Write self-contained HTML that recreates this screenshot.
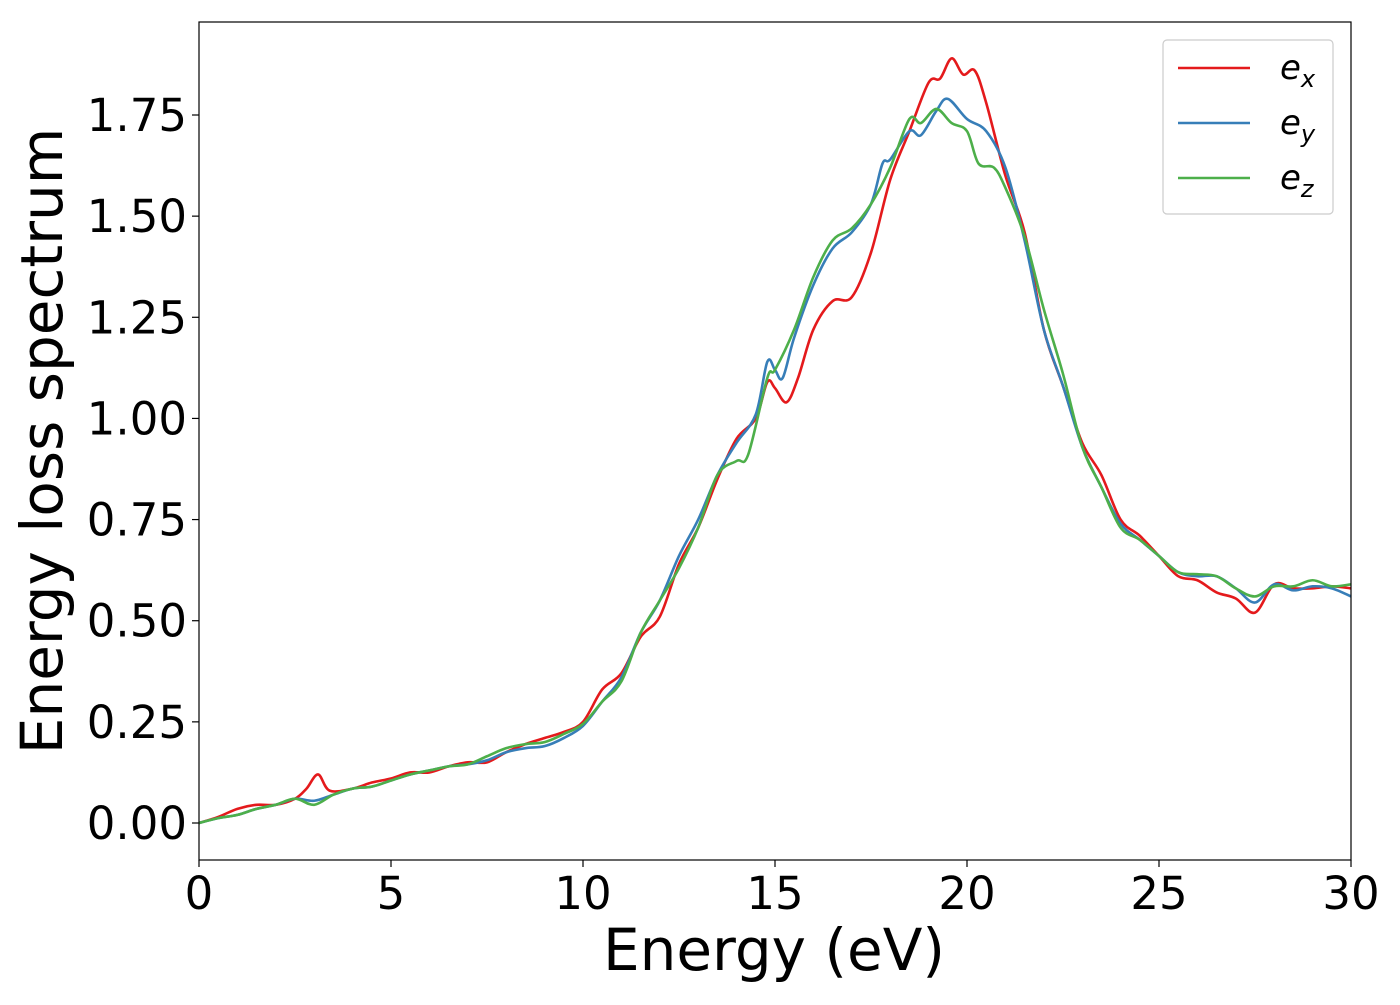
<!DOCTYPE html>
<html><head><meta charset="utf-8"><style>
body{margin:0;background:#fff;}
svg{font-family:"DejaVu Sans","Liberation Sans",sans-serif;}
</style></head><body>
<svg id="chart" width="1400" height="1000" xmlns="http://www.w3.org/2000/svg">
<rect x="0" y="0" width="1400" height="1000" fill="#fff"/>
<g id="plot"></g>
</svg>
<script>
const xTicks=[0,5,10,15,20,25,30];
const yTicks=[0,0.25,0.5,0.75,1.0,1.25,1.5,1.75];
const yTickLabels=["0.00","0.25","0.50","0.75","1.00","1.25","1.50","1.75"];
const seriesNames=["x","y","z"];
const exE=[0,0.5,1,1.5,2,2.5,2.8,3.1,3.4,4,4.5,5,5.5,6,6.5,7,7.5,8,8.5,9,9.5,10,10.5,11,11.5,12,12.5,13,13.5,14,14.5,14.8,15,15.3,15.6,16,16.5,17,17.5,18,18.5,19,19.3,19.6,19.9,20.2,20.5,21,21.5,22,22.5,23,23.5,24,24.5,25,25.5,26,26.5,27,27.5,28,28.5,29,29.5,30];
const exV=[0,0.015,0.035,0.045,0.045,0.06,0.085,0.12,0.08,0.085,0.1,0.11,0.125,0.125,0.14,0.15,0.15,0.175,0.195,0.21,0.225,0.25,0.33,0.37,0.46,0.51,0.64,0.73,0.85,0.95,1.0,1.09,1.075,1.04,1.1,1.22,1.29,1.3,1.41,1.59,1.71,1.83,1.84,1.89,1.85,1.86,1.78,1.6,1.46,1.22,1.08,0.94,0.86,0.75,0.71,0.66,0.61,0.6,0.57,0.555,0.52,0.59,0.58,0.58,0.585,0.58];
const eyE=[0,0.5,1,1.5,2,2.5,3,3.5,4,4.5,5,5.5,6,6.5,7,7.5,8,8.5,9,9.5,10,10.5,11,11.5,12,12.5,13,13.5,14,14.5,14.8,15,15.2,15.5,16,16.5,17,17.5,17.8,18,18.5,18.8,19.2,19.5,20,20.5,21,21.5,22,22.5,23,23.5,24,24.5,25,25.5,26,26.5,27,27.5,28,28.5,29,29.5,30];
const eyV=[0,0.012,0.02,0.035,0.045,0.06,0.055,0.07,0.085,0.09,0.105,0.12,0.13,0.14,0.145,0.155,0.175,0.185,0.19,0.21,0.24,0.3,0.36,0.47,0.55,0.66,0.75,0.86,0.94,1.01,1.14,1.12,1.1,1.2,1.33,1.42,1.46,1.53,1.63,1.64,1.71,1.7,1.76,1.79,1.74,1.71,1.62,1.44,1.22,1.08,0.93,0.83,0.74,0.7,0.66,0.62,0.61,0.61,0.58,0.545,0.59,0.575,0.585,0.58,0.56];
const ezE=[0,0.5,1,1.5,2,2.5,3,3.5,4,4.5,5,5.5,6,6.5,7,7.5,8,8.5,9,9.5,10,10.5,11,11.5,12,12.5,13,13.5,14,14.3,14.8,15,15.5,16,16.5,17,17.5,18,18.5,18.8,19.2,19.6,20,20.3,20.7,21,21.5,22,22.5,23,23.5,24,24.5,25,25.5,26,26.5,27,27.5,28,28.5,29,29.5,30];
const ezV=[0,0.012,0.02,0.035,0.045,0.06,0.045,0.07,0.085,0.09,0.105,0.12,0.13,0.14,0.145,0.165,0.185,0.195,0.2,0.22,0.245,0.3,0.35,0.47,0.55,0.63,0.73,0.86,0.895,0.91,1.1,1.12,1.22,1.35,1.44,1.47,1.53,1.62,1.74,1.73,1.765,1.73,1.71,1.63,1.62,1.57,1.45,1.27,1.11,0.93,0.83,0.73,0.7,0.66,0.62,0.615,0.61,0.58,0.56,0.585,0.585,0.6,0.585,0.59];
const colors=["#e41a1c","#377eb8","#4daf4a"];
const X0=199,X1=1351,YT=22,YB=860;
const xs=v=>X0+(v/30)*(X1-X0);
const ys=v=>823-v*404.57;
const NS="http://www.w3.org/2000/svg";
const g=document.getElementById('plot');
function mk(t,a){const e=document.createElementNS(NS,t);for(const k in a)e.setAttribute(k,a[k]);g.appendChild(e);return e;}
function smooth(E,V){const p=E.map((e,i)=>[xs(e),ys(V[i])]);let d=`M${p[0][0]},${p[0][1]}`;
for(let i=0;i<p.length-1;i++){const a=p[i-1]||p[i],b=p[i],c=p[i+1],n=p[i+2]||c;
d+=` C${b[0]+(c[0]-a[0])/6},${b[1]+(c[1]-a[1])/6} ${c[0]-(n[0]-b[0])/6},${c[1]-(n[1]-b[1])/6} ${c[0]},${c[1]}`;}return d;}
const clip=mk('clipPath',{id:'cp'});const cr=document.createElementNS(NS,'rect');
cr.setAttribute('x',X0);cr.setAttribute('y',YT);cr.setAttribute('width',X1-X0);cr.setAttribute('height',YB-YT);clip.appendChild(cr);
const data=[[exE,exV],[eyE,eyV],[ezE,ezV]];
data.forEach((s,i)=>{const p=mk('path',{d:smooth(s[0],s[1]),fill:'none',stroke:colors[i],'stroke-width':2.6,'clip-path':'url(#cp)'});

});
const fr=mk('rect',{x:X0,y:YT,width:X1-X0,height:YB-YT,fill:'none',stroke:'#000','stroke-width':1.2});


xTicks.forEach(t=>{mk('line',{x1:xs(t),x2:xs(t),y1:YB,y2:YB+7,stroke:'#000','stroke-width':1.2});
const tx=mk('text',{x:xs(t),y:YB+49,'font-size':45,'text-anchor':'middle'});tx.textContent=t;

});
yTicks.forEach((t,i)=>{mk('line',{x1:X0-7,x2:X0,y1:ys(t),y2:ys(t),stroke:'#000','stroke-width':1.2});
const tx=mk('text',{x:187,y:ys(t)+16,'font-size':45,'text-anchor':'end'});tx.textContent=yTickLabels[i];

});
const xl=mk('text',{x:774,y:970,'font-size':58,'text-anchor':'middle'});xl.textContent='Energy (eV)';


const yl=mk('text',{x:0,y:0,'font-size':58,'text-anchor':'middle',transform:'translate(62,441) rotate(-90)'});yl.textContent='Energy loss spectrum';


const lb=mk('rect',{x:1163,y:40,width:170,height:174,rx:4,fill:'#fff',stroke:'#ccc','stroke-width':1.2});


seriesNames.forEach((n,i)=>{const y=68+i*55;
mk('line',{x1:1178,x2:1250,y1:y,y2:y,stroke:colors[i],'stroke-width':2.6});
const t=mk('text',{x:1280,y:y+11,'font-size':34,'font-style':'italic'});


t.textContent='e';const s=document.createElementNS(NS,'tspan');s.setAttribute('font-size',24);s.setAttribute('dy',8);s.textContent=n;t.appendChild(s);});
</script>
</body></html>
